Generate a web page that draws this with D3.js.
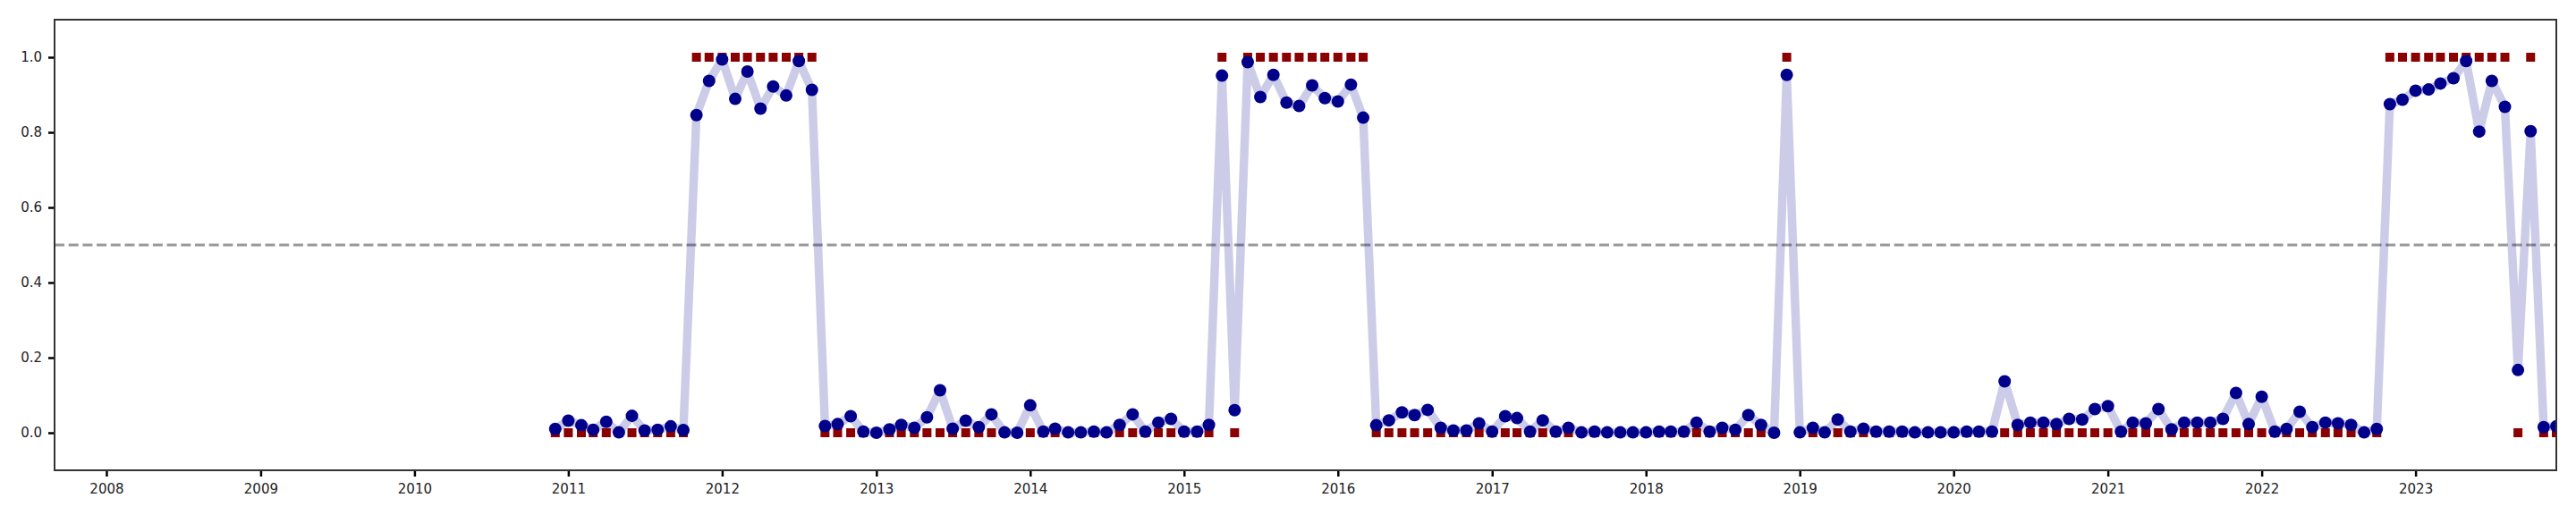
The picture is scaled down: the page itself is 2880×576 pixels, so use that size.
<!DOCTYPE html>
<html lang="en">
<head>
  <meta charset="utf-8">
  <title>monthly probability vs label</title>
  <style>
    body { margin: 0; background: #fff; }
    svg { display: block; }
    .tick text { font-family: "DejaVu Sans", sans-serif; font-size: 15px; fill: #222; }
    .tick line { stroke: #000; stroke-width: 2.5; }
  </style>
</head>
<body>

  <svg class="canvas" width="2880" height="576"></svg>

  <script src="https://d3js.org/d3.v7.min.js"></script>
  <script>

// monthly series, Dec 2010 .. Dec 2023 (one row per year)
const firstMonth = new Date(2010, 11, 1)
const lastMonth = new Date(2023, 11, 1)

const probs = [
  0.010,
  0.032, 0.020, 0.008, 0.029, 0.001, 0.045, 0.006, 0.008, 0.017, 0.007, 0.846, 0.937,
  0.994, 0.889, 0.962, 0.863, 0.922, 0.898, 0.990, 0.913, 0.018, 0.023, 0.044, 0.003,
  0.000, 0.009, 0.021, 0.013, 0.041, 0.113, 0.011, 0.032, 0.015, 0.049, 0.001, 0.000,
  0.073, 0.003, 0.011, 0.001, 0.001, 0.003, 0.001, 0.021, 0.049, 0.003, 0.027, 0.037,
  0.003, 0.003, 0.021, 0.951, 0.060, 0.987, 0.894, 0.953, 0.879, 0.870, 0.925, 0.891,
  0.882, 0.927, 0.839, 0.020, 0.033, 0.054, 0.047, 0.061, 0.013, 0.006, 0.006, 0.025,
  0.003, 0.044, 0.039, 0.003, 0.033, 0.003, 0.013, 0.001, 0.003, 0.001, 0.001, 0.001,
  0.001, 0.003, 0.003, 0.003, 0.027, 0.003, 0.013, 0.008, 0.047, 0.021, 0.000, 0.953,
  0.001, 0.013, 0.001, 0.035, 0.003, 0.011, 0.003, 0.003, 0.003, 0.001, 0.001, 0.001,
  0.001, 0.003, 0.003, 0.003, 0.137, 0.021, 0.027, 0.027, 0.023, 0.037, 0.035, 0.063,
  0.071, 0.003, 0.027, 0.025, 0.063, 0.009, 0.027, 0.027, 0.027, 0.037, 0.106, 0.023,
  0.096, 0.003, 0.010, 0.056, 0.015, 0.027, 0.025, 0.021, 0.001, 0.010, 0.875, 0.887,
  0.911, 0.914, 0.930, 0.944, 0.990, 0.802, 0.937, 0.868, 0.167, 0.803, 0.015, 0.017
]

const labels = [
  0,
  0, 0, 0, 0, 0, 0, 0, 0, 0, 0, 1, 1,
  1, 1, 1, 1, 1, 1, 1, 1, 0, 0, 0, 0,
  0, 0, 0, 0, 0, 0, 0, 0, 0, 0, 0, 0,
  0, 0, 0, 0, 0, 0, 0, 0, 0, 0, 0, 0,
  0, 0, 0, 1, 0, 1, 1, 1, 1, 1, 1, 1,
  1, 1, 1, 0, 0, 0, 0, 0, 0, 0, 0, 0,
  0, 0, 0, 0, 0, 0, 0, 0, 0, 0, 0, 0,
  0, 0, 0, 0, 0, 0, 0, 0, 0, 0, 0, 1,
  0, 0, 0, 0, 0, 0, 0, 0, 0, 0, 0, 0,
  0, 0, 0, 0, 0, 0, 0, 0, 0, 0, 0, 0,
  0, 0, 0, 0, 0, 0, 0, 0, 0, 0, 0, 0,
  0, 0, 0, 0, 0, 0, 0, 0, 0, 0, 1, 1,
  1, 1, 1, 1, 1, 1, 1, 1, 0, 1, 0, 0
]

const yearTicks = [2008, 2009, 2010, 2011, 2012, 2013, 2014, 2015,
                   2016, 2017, 2018, 2019, 2020, 2021, 2022, 2023]
const yTicks = [0.0, 0.2, 0.4, 0.6, 0.8, 1.0]
const threshold = 0.5


/**

  layout

**/

let plot = {left: 61, right: 2858, top: 22, bottom: 526}

let months = d3.timeMonth.range(firstMonth, d3.timeMonth.offset(lastMonth, 1))
let points = months.map(function(m, i) {
  return {date: m, p: probs[i], label: labels[i]}
})

let x = d3.scaleTime()
  .domain([new Date(2007, 7, 31), lastMonth])
  .range([plot.left, plot.right])

let y = d3.scaleLinear()
  .domain([-0.1, 1.1])
  .range([plot.bottom, plot.top])

let svg = d3.select(".canvas")

svg.append("defs").append("clipPath")
    .attr("id", "plotclip")
  .append("rect")
    .attr("x", plot.left)
    .attr("y", plot.top)
    .attr("width", plot.right - plot.left)
    .attr("height", plot.bottom - plot.top)


/**

  axes

**/

let xAxis = d3.axisBottom(x)
  .tickValues(yearTicks.map(function(yr) { return new Date(yr, 0, 1) }))
  .tickFormat(d3.timeFormat("%Y"))
  .tickSize(7)
  .tickPadding(8)

svg.append("g")
    .attr("class", "x axis")
    .attr("transform", "translate(0," + plot.bottom + ")")
    .call(xAxis)
    .call(function(g) { g.select(".domain").remove() })

let yAxis = d3.axisLeft(y)
  .tickValues(yTicks)
  .tickFormat(d3.format(".1f"))
  .tickSize(7)
  .tickPadding(7)

svg.append("g")
    .attr("class", "y axis")
    .attr("transform", "translate(" + plot.left + ",0)")
    .call(yAxis)
    .call(function(g) { g.select(".domain").remove() })


/**

  marks

**/

let marks = svg.append("g").attr("clip-path", "url(#plotclip)")

// decision threshold
marks.append("line")
    .attr("x1", plot.left)
    .attr("x2", plot.right)
    .attr("y1", y(threshold))
    .attr("y2", y(threshold))
    .attr("stroke", "#999")
    .attr("stroke-width", 3)
    .attr("stroke-dasharray", "11,4.7")

let line = d3.line()
  .x(function(d) { return x(d.date) })
  .y(function(d) { return y(d.p) })

marks.append("path")
    .datum(points)
    .attr("d", line)
    .attr("fill", "none")
    .attr("stroke", "#00008b")
    .attr("stroke-opacity", 0.2)
    .attr("stroke-width", 9.5)
    .attr("stroke-linejoin", "round")

// true labels
marks.selectAll("rect.label").data(points)
  .enter().append("rect")
    .attr("class", "label")
    .attr("x", function(d) { return x(d.date) - 5 })
    .attr("y", function(d) { return y(d.label) - 5 })
    .attr("width", 10)
    .attr("height", 10)
    .attr("fill", "#8b0000")

// predicted probability
marks.selectAll("circle.prob").data(points)
  .enter().append("circle")
    .attr("class", "prob")
    .attr("cx", function(d) { return x(d.date) })
    .attr("cy", function(d) { return y(d.p) })
    .attr("r", 7)
    .attr("fill", "#00008b")

// frame
svg.append("rect")
    .attr("x", plot.left)
    .attr("y", plot.top)
    .attr("width", plot.right - plot.left)
    .attr("height", plot.bottom - plot.top)
    .attr("fill", "none")
    .attr("stroke", "#333")
    .attr("stroke-width", 2)

  </script>
</body>
</html>
